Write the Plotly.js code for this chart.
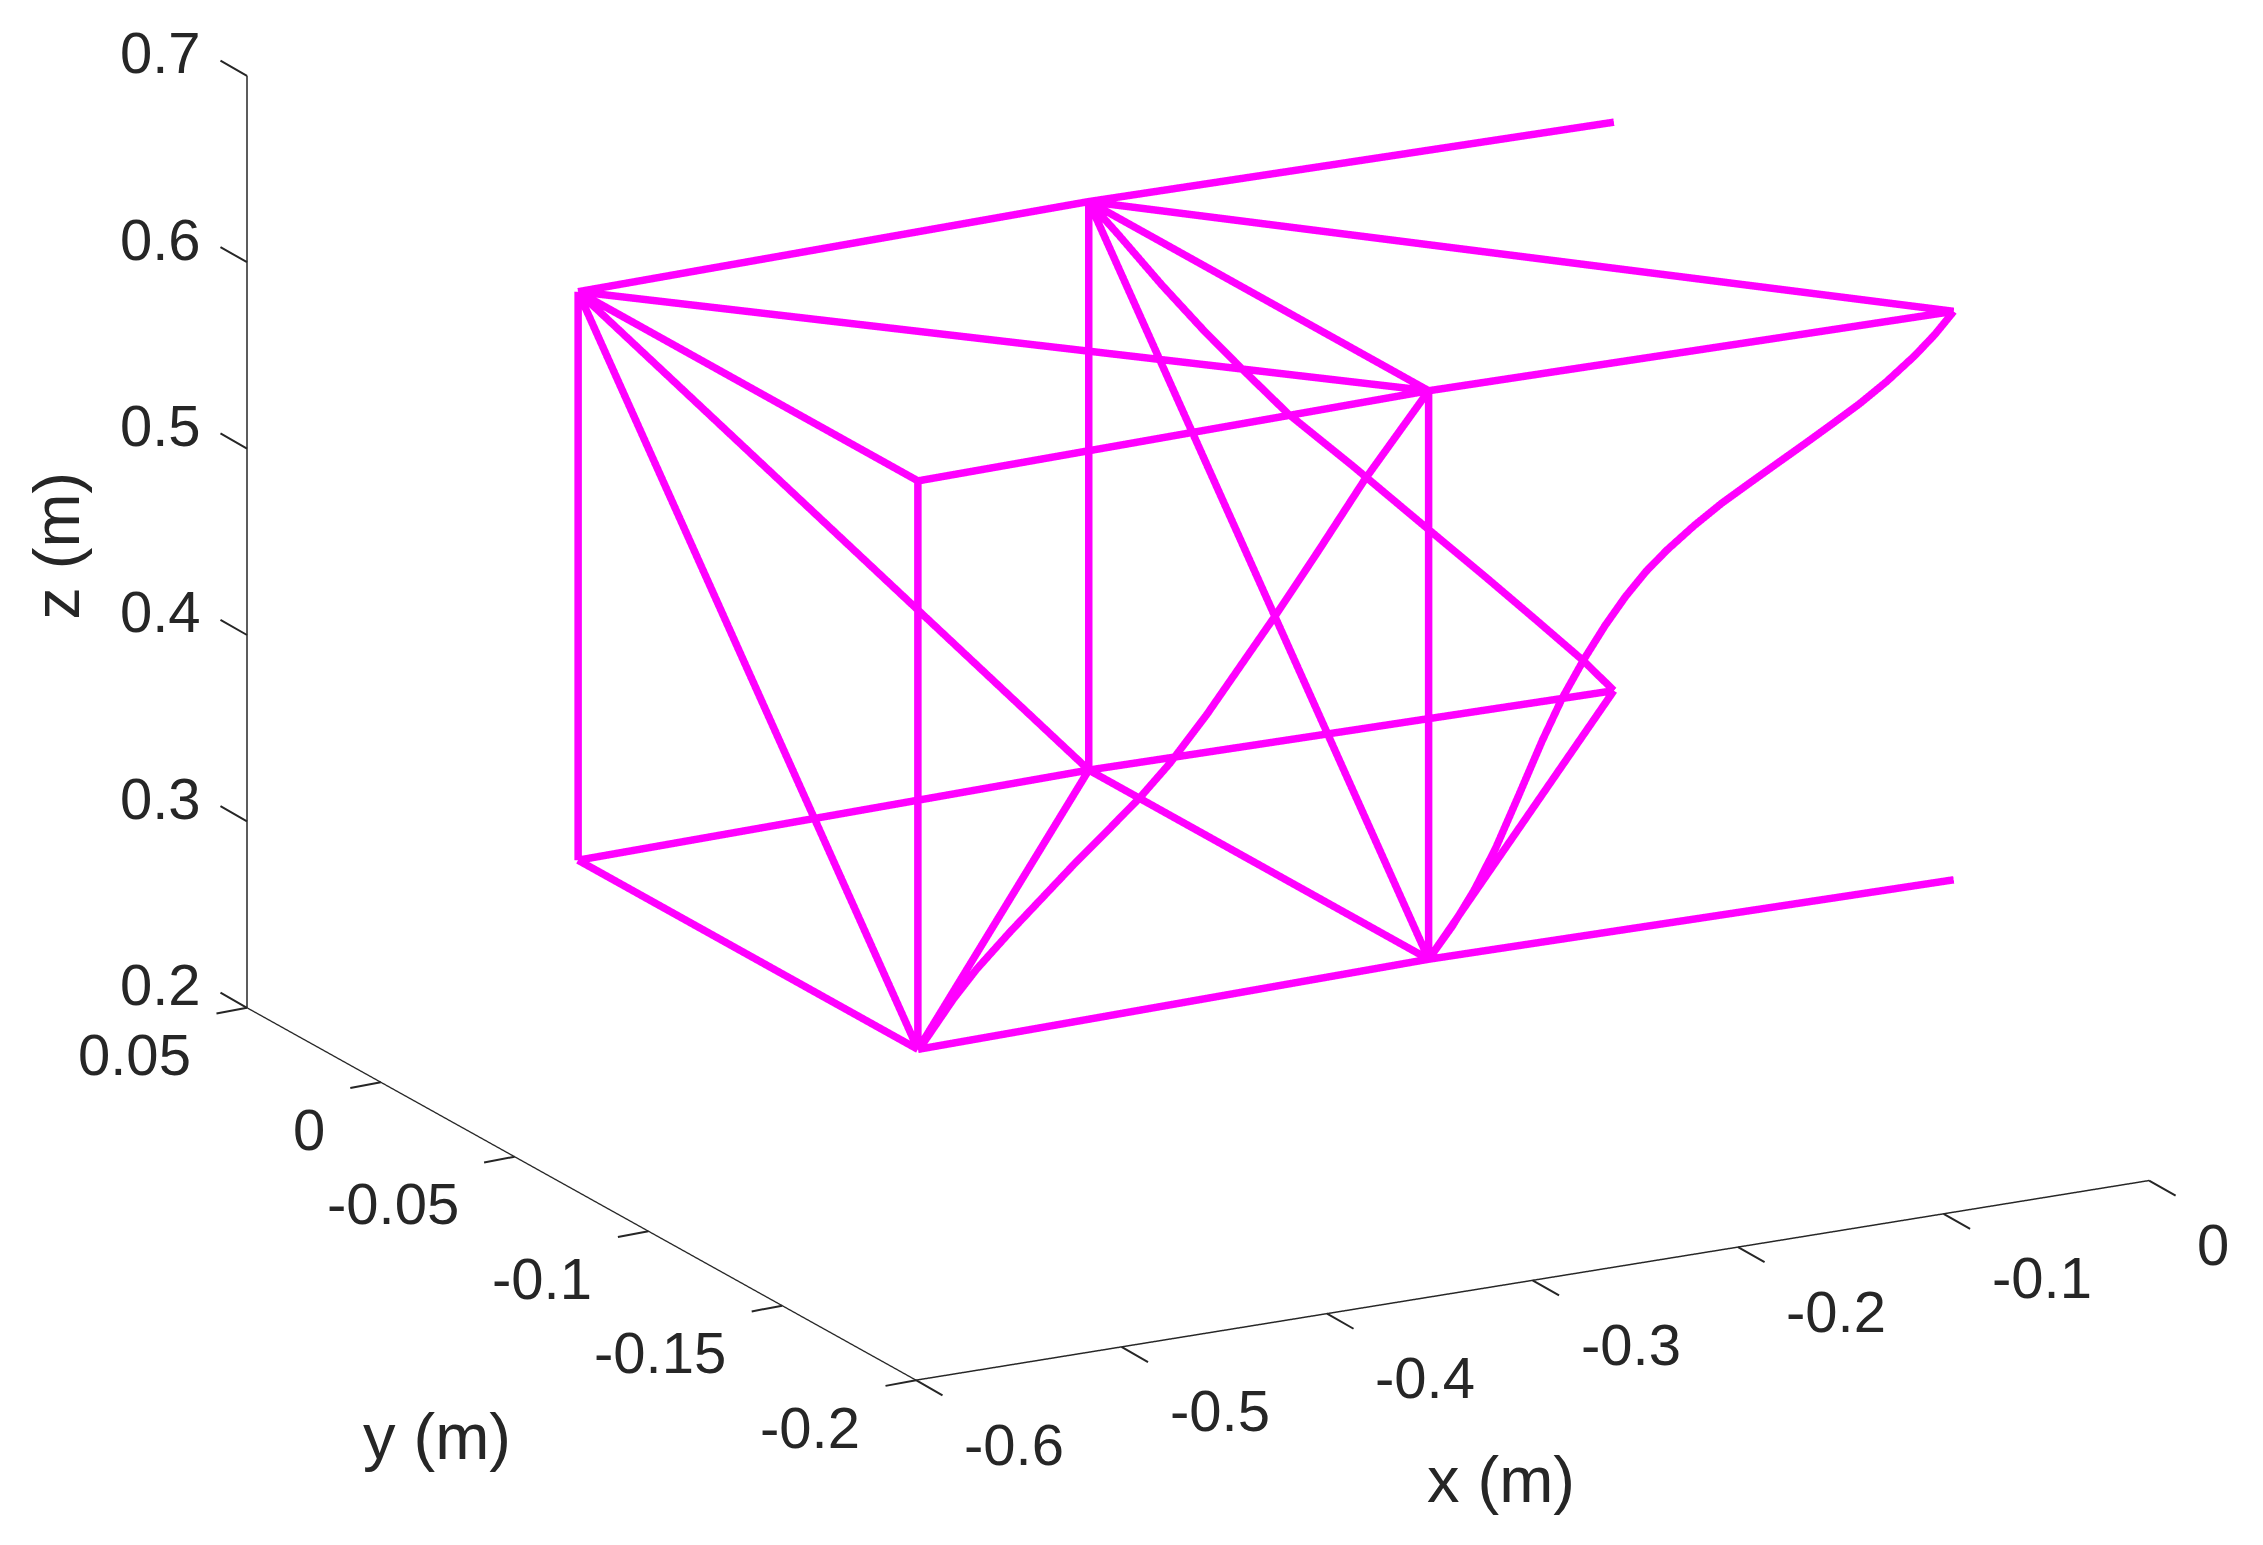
<!DOCTYPE html>
<html><head><meta charset="utf-8">
<script src="https://cdn.plot.ly/plotly-3.0.1.min.js"></script>
<style>html,body{margin:0;padding:0;background:#fff}#g{width:2263px;height:1545px}</style>
</head><body><div id="g"></div>
<script>
const stationX = [-0.504, -0.2555, 0];
const backY = 0, frontY = -0.127;
const topZ = [0.607, 0.611, 0.608];
const botZ = [0.302, 0.306, 0.303];
const curveFrontAX = [-0.5034,-0.4867,-0.4754,-0.4592,-0.443,-0.4268,-0.4106,-0.3961,-0.3815,-0.3635,-0.33,-0.309,-0.2868,-0.2555];
const curveFrontAZ = [0.302,0.326,0.340,0.357,0.373,0.389,0.404,0.4177,0.4335,0.4565,0.5038,0.5349,0.5686,0.611];
const curveFrontBX = [-0.2555,-0.2441,-0.2334,-0.2228,-0.2115,-0.2002,-0.1905,-0.1799,-0.1698,-0.1597,-0.1497,-0.1396,-0.1263,-0.1129,-0.0995,-0.0862,-0.0728,-0.0594,-0.046,-0.0326,-0.0192,-0.0092,0];
const curveFrontBZ = [0.306,0.3215,0.339,0.360,0.3865,0.4135,0.4345,0.4535,0.4695,0.4835,0.4952,0.5048,0.5156,0.5252,0.5335,0.5416,0.5497,0.558,0.5665,0.5762,0.5874,0.5972,0.608];
const curveBackX = [-0.2555,-0.2411,-0.2201,-0.199,-0.1812,-0.1585,-0.1278,-0.0954,-0.0619,-0.0386,-0.0153,0];
const curveBackZ = [0.611,0.5907,0.5601,0.5311,0.5082,0.4798,0.447,0.4113,0.3745,0.3485,0.3222,0.303];
const straightMembers = [
 ['Tb0','Tb1','Tb2'],['Tf0','Tf1','Tf2'],['Bb0','Bb1','Bb2'],['Bf0','Bf1','Bf2'],
 ['Tb0','Bb0'],['Tf0','Bf0'],['Tb1','Bb1'],['Tf1','Bf1'],
 ['Tb0','Tf0'],['Bb0','Bf0'],['Tb1','Tf1'],['Bb1','Bf1'],
 ['Tb0','Tf1'],['Tb1','Tf2'],['Tb0','Bf0'],['Tb0','Bb1'],['Bb1','Bf0'],['Tb1','Bf1'],['Bf1','Bb2']
];
const xTicks = [-0.6,-0.5,-0.4,-0.3,-0.2,-0.1,0];
const yTicks = [-0.2,-0.15,-0.1,-0.05,0,0.05];
const zTicks = [0.2,0.3,0.4,0.5,0.6,0.7];
const xLabels = ['-0.6','-0.5','-0.4','-0.3','-0.2','-0.1','0'];
const yLabels = ['-0.2','-0.15','-0.1','-0.05','0','0.05'];
const zLabels = ['0.2','0.3','0.4','0.5','0.6','0.7'];
const xRange=[-0.6,0], yRange=[-0.2,0.05], zRange=[0.2,0.7];

function node(n){
  const s=+n[2];
  return [stationX[s], n[1]==='b'?backY:frontY, (n[0]==='T'?topZ:botZ)[s]];
}
const X=[],Y=[],Z=[];
function push(p){X.push(p[0]);Y.push(p[1]);Z.push(p[2]);}
function gap(){X.push(null);Y.push(null);Z.push(null);}
straightMembers.forEach(m=>{m.forEach(n=>push(node(n)));gap();});
curveFrontAX.forEach((x,i)=>push([x,frontY,curveFrontAZ[i]]));gap();
curveFrontBX.forEach((x,i)=>push([x,frontY,curveFrontBZ[i]]));gap();
curveBackX.forEach((x,i)=>push([x,backY,curveBackZ[i]]));

const textCol='#262626', tickFont={family:'"Liberation Sans",Arial,sans-serif',size:58,color:textCol};
const titleFont={family:'"Liberation Sans",Arial,sans-serif',size:65,color:textCol};
const ann=[];
function tickMark(x,y,z,ax,ay){ann.push({x:x,y:y,z:z,text:' ',font:{size:1,color:textCol},showarrow:true,arrowhead:0,arrowwidth:2,arrowcolor:textCol,standoff:0,startstandoff:0,ax:ax,ay:ay});}
xTicks.forEach(v=>tickMark(v,yRange[0],zRange[0],28,16));
yTicks.forEach(v=>tickMark(xRange[0],v,zRange[0],-32,6));
zTicks.forEach(v=>tickMark(xRange[0],yRange[1],v,-28,-16));
xTicks.forEach((v,i)=>ann.push({x:v,y:yRange[0],z:zRange[0],text:xLabels[i],showarrow:false,xanchor:'left',yanchor:'middle',xshift:46,yshift:-64,font:tickFont}));
yTicks.forEach((v,i)=>ann.push({x:xRange[0],y:v,z:zRange[0],text:yLabels[i],showarrow:false,xanchor:'right',yanchor:'middle',xshift:-54,yshift:-47,font:tickFont}));
zTicks.forEach((v,i)=>ann.push({x:xRange[0],y:yRange[1],z:v,text:zLabels[i],showarrow:false,xanchor:'right',yanchor:'middle',xshift:-44,yshift:23,font:tickFont}));
ann.push({x:-0.3,y:yRange[0],z:zRange[0],text:'x (m)',showarrow:false,xshift:-32,yshift:-199,font:titleFont});
ann.push({x:xRange[0],y:-0.075,z:zRange[0],text:'y (m)',showarrow:false,xshift:-144,yshift:-243,font:titleFont});
ann.push({x:xRange[0],y:yRange[1],z:0.45,text:'z (m)',showarrow:false,textangle:-90,xshift:-190,yshift:-4,font:titleFont});

function axis(range,ticks){return {range:range,autorange:false,tickmode:'array',tickvals:ticks,ticktext:ticks.map(()=>''),
  showticklabels:false,showgrid:false,zeroline:false,showbackground:false,showspikes:false,showline:true,
  linecolor:textCol,linewidth:3,ticks:'',title:{text:''}};}

const k=2, dir=[-0.4528,-0.8396,0.3002], c=[-0.1023,-0.0082,-0.1783];
Plotly.newPlot('g',[{type:'scatter3d',mode:'lines',x:X,y:Y,z:Z,connectgaps:false,
  line:{color:'#ff00ff',width:15},hoverinfo:'skip',showlegend:false}],{
  width:2263,height:1545,margin:{l:0,r:0,t:0,b:0},paper_bgcolor:'#fff',showlegend:false,
  scene:{domain:{x:[0,1],y:[0,1]},aspectmode:'manual',aspectratio:{x:1.8136,y:1.8245,z:1.2647},
    camera:{projection:{type:'orthographic'},up:{x:0,y:0,z:1},center:{x:c[0],y:c[1],z:c[2]},
      eye:{x:c[0]+k*dir[0],y:c[1]+k*dir[1],z:c[2]+k*dir[2]}},
    xaxis:axis(xRange,xTicks),yaxis:axis(yRange,yTicks),zaxis:axis(zRange,zTicks),annotations:ann}
},{displayModeBar:false});
</script></body></html>
